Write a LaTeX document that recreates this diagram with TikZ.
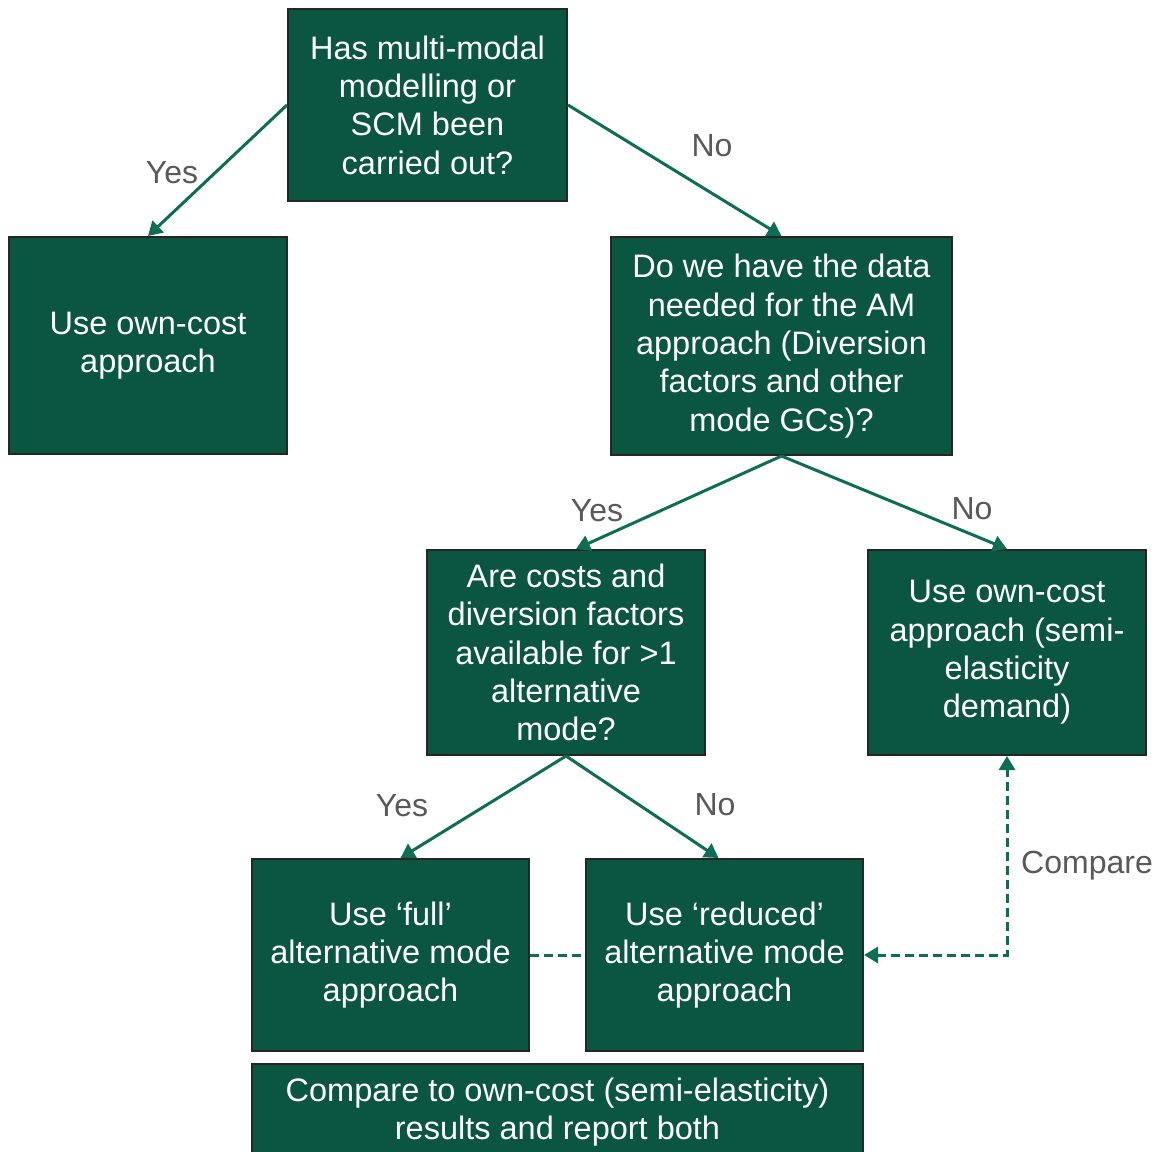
\documentclass[tikz,border=0pt]{standalone}
\usepackage{fontspec}
\setmainfont{Liberation Sans}
\usetikzlibrary{arrows.meta,calc}
\definecolor{boxgreen}{HTML}{0B5640}
\definecolor{arrgreen}{HTML}{0E6E55}
\definecolor{lblgray}{HTML}{595959}
\begin{document}
\begin{tikzpicture}[x=1pt,y=1pt,
  box/.style={draw=black!85, line width=2pt, fill=boxgreen, text=white, align=center,
    font=\fontsize{32.5}{38.4}\selectfont, inner sep=0pt},
  conn/.style={draw=arrgreen, line width=3pt, -{Triangle[length=14pt,width=16pt]}},
  cmp/.style={draw=arrgreen, line width=3pt, dash pattern=on 9pt off 5pt},
  lbl/.style={text=lblgray, font=\fontsize{32}{38}\selectfont, inner sep=0pt}]
\useasboundingbox (0,0) rectangle (1155,-1151);
\node[box, minimum width=279, minimum height=192] (A) at (427.5,-105)
  {Has multi-modal\\modelling or\\SCM been\\carried out?};
\node[box, minimum width=278, minimum height=217] (B) at (148,-345.5)
  {Use own-cost\\approach};
\node[box, minimum width=341, minimum height=218] (C) at (781.5,-346)
  {Do we have the data\\needed for the AM\\approach (Diversion\\factors and other\\mode GCs)?};
\node[box, minimum width=278, minimum height=205] (D) at (566,-652.5)
  {Are costs and\\diversion factors\\available for >1\\alternative\\mode?};
\node[box, minimum width=278, minimum height=205] (E) at (1007,-652.5)
  {Use own-cost\\approach (semi-\\elasticity\\demand)};
\node[box, minimum width=277, minimum height=192] (F) at (390.5,-955)
  {Use ‘full’\\alternative mode\\approach};
\node[box, minimum width=277, minimum height=192] (G) at (724.5,-955)
  {Use ‘reduced’\\alternative mode\\approach};
\node[box, minimum width=611, minimum height=96] (H) at (557.5,-1112)
  {Compare to own-cost (semi-elasticity)\\results and report both};

\draw[conn] (A.west) -- (B.north);
\draw[conn] (A.east) -- (C.north);
\draw[conn] (C.south) -- ($(D.north)+(10,0)$);
\draw[conn] (C.south) -- (E.north);
\draw[conn] (D.south) -- ($(F.north)+(10,0)$);
\draw[conn] (D.south) -- ($(G.north)+(-6,0)$);
\draw[cmp] (F.east) -- (G.west);
\coordinate (K) at (G.east -| E.south);
\draw[cmp, {Triangle[length=14pt,width=16pt]}-{Triangle[length=14pt,width=16pt]}]
  (G.east) -- (K) -- (E.south);

\node[lbl] (l1) at (172,-173) {Yes};
\node[lbl] (l2) at (712,-146) {No};
\node[lbl] (l3) at (597,-511) {Yes};
\node[lbl] (l4) at (972,-509) {No};
\node[lbl] (l5) at (402,-806) {Yes};
\node[lbl] (l6) at (715,-805) {No};
\node[lbl] (l7) at (1087,-866) {Compare};
\end{tikzpicture}
\end{document}
